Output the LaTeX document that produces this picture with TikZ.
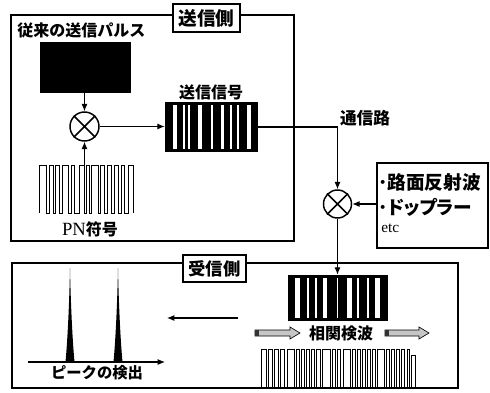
\documentclass[tikz,border=0pt]{standalone}
\usepackage{fontspec}
\newfontfamily\jp{Noto Sans CJK JP}
\newfontfamily\jpp{Noto Sans CJK JP}[RawFeature=+palt]
\newfontfamily\ser{Liberation Serif}
\usetikzlibrary{arrows.meta}
\newcommand\jpsz[1]{\jp\bfseries\fontsize{#1}{#1}\selectfont}
\begin{document}
\begin{tikzpicture}[x=0.75pt,y=-0.75pt,
  frame/.style={draw, line width=0.9pt},
  tag/.style={draw, fill=white, line width=0.9pt, inner sep=0pt},
  conn/.style={line width=0.8pt, -{Latex[length=5.5pt,width=4.5pt]}},
  mult/.style={circle, draw, line width=1.1pt, inner sep=0pt},
  blk/.style={fill=black, inner sep=0pt},
  wave/.style={line width=0.7pt},
  hatch/.style={draw, line width=0.5pt, fill=gray!45},
  lbl/.style={inner sep=0pt}
]
\useasboundingbox (0,0) rectangle (490,393);

% frames
\draw[frame] (11,15) rectangle (294,241);
\draw[frame] (12,263) rectangle (458,388);
\node[tag, minimum width=50.25pt, minimum height=21pt, font=\jpsz{14pt}] (txside) at (206.5,18) {送信側};
\node[tag, minimum width=47.25pt, minimum height=20.25pt, font=\jpsz{13pt}] (rxside) at (214.5,268.5) {受信側};

% transmitter
\node[lbl, anchor=west, font=\jpsz{12pt}] (oldlbl) at (17,30) {従来の送信パルス};
\node[blk, minimum width=68.25pt, minimum height=38.25pt] (pulse) at (85.5,67.5) {};
\node[mult, minimum size=21.75pt] (m1) at (84.5,126.5) {};
\draw[line width=1.1pt] (m1.north east) -- (m1.south west) (m1.north west) -- (m1.south east);

% PN waveform
\node[inner sep=0pt, minimum width=70.5pt, minimum height=36pt] (pn) at (86,189) {};
\draw[wave] (39,213) \foreach \a/\b in {39/46,49/53,55/59,62/68,71/74,79/84,86/89,91/98,100/104,107/111,114/118,121/124,128/133} { -- (\a,213) -- (\a,165) -- (\b,165) -- (\b,213) };
\node[lbl] (pnlbl) at (90,229) {{\ser\fontsize{14pt}{14pt}\selectfont PN}{\jpsz{12pt}符号}};

\draw[conn] (pulse.south -| m1.north) -- (m1.north);
\draw[conn] (pn.north -| m1.south) -- (m1.south);

% transmitted signal
\node[lbl, font=\jpsz{12pt}] (txlbl) at (211,92) {送信信号};
\node[blk, minimum width=69.75pt, minimum height=37.5pt] (tx) at (211.5,127) {};
\foreach \a/\b in {173/177,183/185,188/189.5,198/202,211/212.5,221/224,230/232,237/239,247/251}
  \fill[white] (\a,105) rectangle (\b,149);
\draw[conn] (m1.east) -- (m1.east -| tx.west);

% channel
\node[mult, minimum size=21pt] (m2) at (337.5,204) {};
\draw[line width=1.1pt] (m2.north east) -- (m2.south west) (m2.north west) -- (m2.south east);
\draw[conn] (tx.east) -| (m2.north);
\node[lbl, font=\jpsz{12.5pt}] (chlbl) at (365,118) {通信路};

% noise box
\node[draw, line width=0.9pt, minimum width=83.25pt, minimum height=63.75pt, inner sep=0pt] (noise) at (432.5,205.5) {};
\node[lbl, anchor=west, font=\jpsz{14pt}] (n1) at (378,182) {･路面反射波};
\node[lbl, anchor=west] (n2) at (378,207) {\jpsz{14pt}\jpp ･ドップラー};
\node[lbl, anchor=west, font=\ser\fontsize{11.5pt}{11.5pt}\selectfont] (n3) at (381,228) {etc};
\draw[conn] (m2.east -| noise.west) -- (m2.east);

% receiver barcode
\node[blk, minimum width=75pt, minimum height=34.5pt] (rx) at (338,298) {};
\foreach \a/\b in {295/300,307/308.5,315/317,323/327,337/338,347/352,357/359,367/368.5,375/380}
  \fill[white] (\a,278) rectangle (\b,318);
\draw[conn] (m2.south) -- (rx.north -| m2.south);

% correlation
\node[lbl, font=\jpsz{12pt}] (corr) at (341,333) {相関検波};
\draw[hatch] (255,330) -- (290,330) -- (290,327) -- (300,333) -- (290,339) -- (290,336) -- (255,336) -- cycle;
\fill[black!80] (255,330) rectangle (259,336);
\draw[hatch] (385,330) -- (419,330) -- (419,327) -- (429,333) -- (419,339) -- (419,336) -- (385,336) -- cycle;
\fill[black!80] (385,330) rectangle (389,336);
\draw[wave, line width=0.6pt] (261,387) \foreach \a/\b in {261/266,268/272,274/278,280/284,287/294,296/299,301/304,306/309,311/314,316/320,322/330,332/335,337/340,343/350,352/355,357/360,362/365,367/370,372/375,377/384,386/389,391/394,396/399,401/404,407/409} { -- (\a,387) -- (\a,349) -- (\b,349) -- (\b,387) };
\draw[wave, line width=0.6pt] (411,387) -- (411,355) -- (415,355) -- (415,387);

% back arrow
\coordinate (ba0) at (238,318);
\coordinate (ba1) at (167,318);
\draw[conn] (ba0) -- (ba1);

% peaks
\coordinate (ax0) at (28,362);
\coordinate (ax1) at (165,362);
\draw[conn] (ax0) -- (ax1);
\fill (65.5,362) .. controls (68,335) and (69.5,295) .. (70,268) .. controls (70.5,295) and (72,335) .. (74.5,362) -- cycle;
\fill (113.5,362) .. controls (116,335) and (117.5,295) .. (118,268) .. controls (118.5,295) and (120,335) .. (122.5,362) -- cycle;
\node[lbl, font=\jpsz{11.5pt}] (peaklbl) at (97,373) {ピークの検出};
\end{tikzpicture}
\end{document}
